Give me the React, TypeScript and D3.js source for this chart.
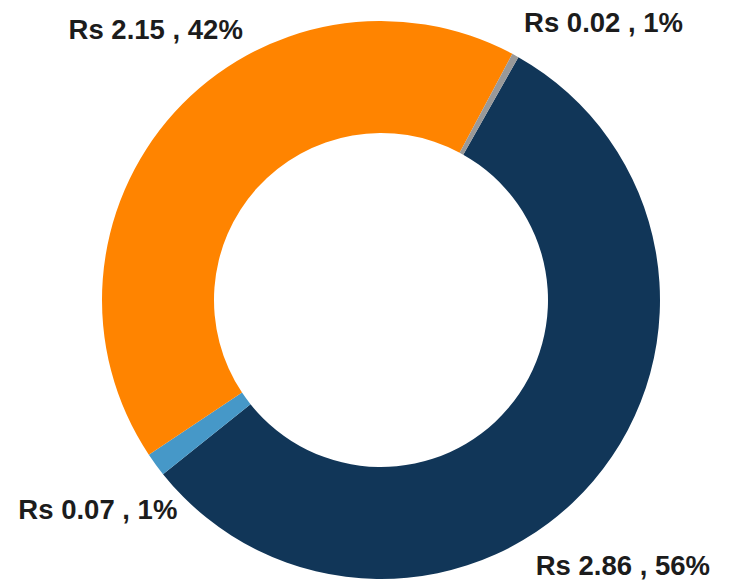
import * as d3 from "d3";
import { useEffect, useRef } from "react";

// slice data, in drawing order (clockwise)
const names = ["A", "B", "C", "D"];
const values = [2.86, 0.07, 2.15, 0.02];
const percents = ["56%", "1%", "42%", "1%"];
const colors = ["#113658", "#4698c8", "#ff8400", "#999999"];

// label placement tweaks (degrees off the slice middle, radius)
const labelNudge = [7.2, -0.3, 8.0, 9.9];
const labelRadius = [359, 352, 352, 356];

const W = 730;
const H = 580;

const App = () => {
  const svgRef = useRef<SVGSVGElement>(null);

  useEffect(() => {
    const svg = d3.select(svgRef.current);
    svg.selectAll("*").remove();

    const cx = 381;
    const cy = 300;
    const outer = 279;
    const inner = 167;
    const start = (29.5 * Math.PI) / 180;

    const data = names.map((n, i) => ({ name: n, value: values[i], pct: percents[i], i }));

    const pie = d3
      .pie<any>()
      .sort(null)
      .value((d) => d.value)
      .startAngle(start)
      .endAngle(start + 2 * Math.PI);

    const arcs = pie(data);
    const arc = d3.arc<any>().innerRadius(inner).outerRadius(outer);

    const g = svg.append("g").attr("transform", `translate(${cx},${cy})`);

    g.selectAll("path")
      .data(arcs)
      .enter()
      .append("path")
      .attr("d", arc)
      .attr("fill", (d) => colors[d.data.i]);

    g.selectAll("text")
      .data(arcs)
      .enter()
      .append("text")
      .attr("transform", (d) => {
        const a = (d.startAngle + d.endAngle) / 2 + (labelNudge[d.data.i] * Math.PI) / 180;
        const r = labelRadius[d.data.i];
        return `translate(${r * Math.sin(a)},${-r * Math.cos(a)})`;
      })
      .attr("text-anchor", "middle")
      .attr("dy", "0.35em")
      .attr("font-family", "'Liberation Sans', Arial, sans-serif")
      .attr("font-weight", "bold")
      .attr("font-size", 27.5)
      .attr("fill", "#1c1c1c")
      .text((d) => `Rs ${d.data.value.toFixed(2)} , ${d.data.pct}`);
  }, []);

  return (
    <svg
      ref={svgRef}
      width={W}
      height={H}
      style={{ position: "absolute", left: 0, top: 0, background: "#fff" }}
    ></svg>
  );
};

export default App;
